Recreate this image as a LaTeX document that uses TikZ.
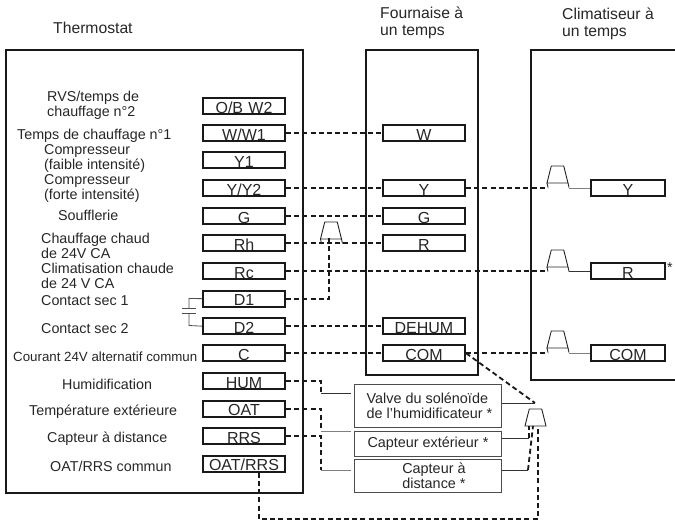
\documentclass[tikz,border=0pt]{standalone}
\usepackage{fontspec}
\setmainfont{Liberation Sans}
\usetikzlibrary{shapes.geometric}
\tikzset{
  every node/.style={font=\fontsize{14.3}{14.8}\selectfont, text=black!85},
  panel/.style={draw=black!90, line width=2pt},
  term/.style={draw=black!90, line width=2pt, inner xsep=0pt, inner ysep=0.8pt, minimum width=82pt, text width=80pt, align=center, text height=14.3pt, text depth=0.4pt, anchor=north west, font=\fontsize{16}{16}\selectfont},
  lab/.style={align=left, inner sep=0pt, anchor=west, yshift=-1.5pt},
  ttl/.style={align=left, inner sep=0pt, anchor=west, yshift=-1pt, font=\fontsize{15.7}{17}\selectfont},
  dev/.style={draw=black!70, line width=0.9pt, fill=white, inner xsep=0pt, inner ysep=0pt, anchor=north west, align=left, font=\fontsize{14.4}{15.3}\selectfont},
  wire/.style={line width=1.8pt, black!90, dash pattern=on 5pt off 3.2pt},
  solid wire/.style={line width=0.9pt, black!80},
  grey wire/.style={line width=0.9pt, black!50},
  trapz/.style={draw=black!85, line width=0.9pt, shape=trapezium, trapezium left angle=72, trapezium right angle=72, trapezium stretches=true, minimum width=21pt, minimum height=17pt, inner sep=0pt, outer sep=0pt, anchor=north},
}
\begin{document}
\begin{tikzpicture}[x=1pt,y=-1pt]
\useasboundingbox (0,0) rectangle (675,522);
% panels
\draw[panel] (6,50) rectangle (303,493);
\draw[panel] (366,50) rectangle (478,375);
\draw[panel] (675,50) -- (531,50) -- (531,380) -- (675,380);
% titles
\node[ttl, yshift=1pt] (t1) at (53,28) {Thermostat};
\node[ttl] (t2) at (380,21.5) {Fournaise à\\un temps};
\node[ttl] (t3) at (562,22.5) {Climatiseur à\\un temps};
% thermostat terminals
\foreach \n/\y/\t in {tOB/97/{O/B W2},tW/124/{W/W1},tYa/151/Y1,tY/179/{Y/Y2},tG/207/G,tRh/234/Rh,tRc/262/Rc,tDa/289.5/D1,tDb/317/D2,tC/344/C,tHUM/372/HUM,tOAT/399.5/OAT,tRRS/427/RRS,tCOM/454.5/{OAT/RRS}}
  \node[term] (\n) at (202,\y) {\t};
% furnace terminals
\foreach \n/\y/\t in {fW/124/W,fY/179/Y,fG/207/G,fR/234/R,fD/317/DEHUM,fC/344/COM}
  \node[term] (\n) at (382,\y) {\t};
% AC terminals
\foreach \n/\y/\t in {aY/179/Y,aR/262/R,aC/344/COM}
  \node[term, minimum width=74pt, text width=72pt] (\n) at (590,\y) {\t};
\node[inner sep=0pt] (star) at (670,268) {*};
% labels
\node[lab] (l1) at (47,104) {RVS/temps de\\chauffage n°2};
\node[lab] (l2) at (17,134) {Temps de chauffage n°1};
\node[lab] (l3) at (44,157) {Compresseur\\(faible intensité)};
\node[lab] (l4) at (44,187) {Compresseur\\(forte intensité)};
\node[lab] (l5) at (58,214) {Soufflerie};
\node[lab] (l6) at (41,244.5) {Chauffage chaud\\de 24V CA};
\node[lab] (l7) at (41,274.5) {Climatisation chaude\\de 24 V CA};
\node[lab] (l8) at (41,299) {Contact sec 1};
\node[lab] (l9) at (41,327) {Contact sec 2};
\node[lab, font=\fontsize{13.3}{14.8}\selectfont] (l10) at (13,355) {Courant 24V alternatif commun};
\node[lab] (l11) at (62,383) {Humidification};
\node[lab] (l12) at (29,410) {Température extérieure};
\node[lab] (l13) at (47,437) {Capteur à distance};
\node[lab] (l14) at (50,465) {OAT/RRS commun};
% devices
\node[dev, minimum width=147pt, minimum height=43pt] (dV) at (354,384) {\hspace*{3pt}Valve du solénoïde\\\hspace*{3pt}de l'humidificateur *};
\node[dev, minimum width=147pt, minimum height=25pt] (dE) at (354,431) {Capteur extérieur *};
\node[dev, minimum width=147pt, minimum height=33pt] (dD) at (354,459) {\hspace*{12pt}\raisebox{-1.5pt}{Capteur à}\\\hspace*{12pt}\raisebox{-1.5pt}{distance *}};
% relays
\node[trapz] (rRh) at (331,222) {\phantom{x}};
\node[trapz] (rY) at (557.5,166) {\phantom{x}};
\node[trapz] (rR) at (557.5,250) {\phantom{x}};
\node[trapz] (rC) at (557.5,331) {\phantom{x}};
\node[trapz] (rH) at (535.5,409) {\phantom{x}};
% coordinates
\coordinate (hA) at (321,393);
\coordinate (hB) at (351,393);
\coordinate (oA) at (321,431);
\coordinate (oB) at (351,431);
\coordinate (sA) at (321,470);
\coordinate (sB) at (351,470);
\coordinate (top) at (535,403);
\coordinate (bA) at (259,519);
\coordinate (bB) at (538,519);
\coordinate (e) at (529,438);
\coordinate (d) at (528,470);
\coordinate (rY1) at ([xshift=1pt]rY.bottom left corner |- fY.east);
\coordinate (rR1) at ([xshift=1pt]rR.bottom left corner |- aR.west);
\coordinate (rC1) at ([xshift=1pt]rC.bottom left corner |- aC.west);
\coordinate (rRh1) at ([xshift=-2pt]rRh.south);
% dashed connectors
\draw[wire] (tW.east) -- (fW.west);
\draw[wire] (tY.east) -- (fY.west);
\draw[wire] (fY.east) -- (rY1);
\draw[wire] (tG.east) -- (fG.west);
\draw[wire] (tRh.east) -- (fR.west);
\draw[wire] (tRc.east) -- (rR1);
\draw[wire] (tDa.east) -| ([yshift=3pt]rRh1);
\draw[wire] (tDb.east) -- (fD.west);
\draw[wire] (tC.east) -- (fC.west);
\draw[wire] (fC.east) -- (rC1);
\draw[wire] (fC.east) -- (top);
\draw[wire] (tHUM.east) -| (hA);
\draw[wire] (tOAT.east) -| (oA);
\draw[wire] (tRRS.east) -| (sA);
\draw[wire] (tCOM.south -| bA) -- (bA) -- (bB) -- (rH.bottom right corner -| bB);
\draw[wire] (e) -- (rH.bottom left corner -| e);
\draw[wire] (d) -- ([xshift=-2.5pt]rH.south);
% solid connectors
\draw[solid wire] (hA) -- (hB);
\draw[grey wire] (oA) -- (oB);
\draw[grey wire] (sA) -- (sB);
\draw[solid wire] (dV.east |- top) -- (top);
\draw[solid wire] (dE.east |- e) -- (e);
\draw[solid wire] (dD.east |- d) -- (d);
\draw[grey wire] ([xshift=1pt]rY.bottom right corner |- aY.west) -- (aY.west);
\draw[solid wire] ([xshift=1pt]rR.bottom right corner |- aR.west) -- (aR.west);
\draw[grey wire] ([xshift=1pt]rC.bottom right corner |- aC.west) -- (aC.west);
% relay hooks
\foreach \r in {rY,rR,rC,rRh}{
  \draw[line width=0.9pt, black!85] (\r.bottom left corner) -- ++(1,4.5);
  \draw[line width=0.9pt, black!85] (\r.bottom right corner) -- ++(1,4.5);
}
% capacitor
\coordinate (c1) at (189,298.5);
\coordinate (c2) at (189,325.5);
\draw[line width=0.8pt, black!70] (tDa.west) -- (c1) -- (189,308);
\draw[line width=0.8pt, black!70] (tDb.west) -- (c2) -- (189,313);
\draw[line width=0.8pt, black!70] (182,308) -- (196,308);
\draw[line width=0.8pt, black!70] (182,313) -- (196,313);
\end{tikzpicture}
\end{document}
